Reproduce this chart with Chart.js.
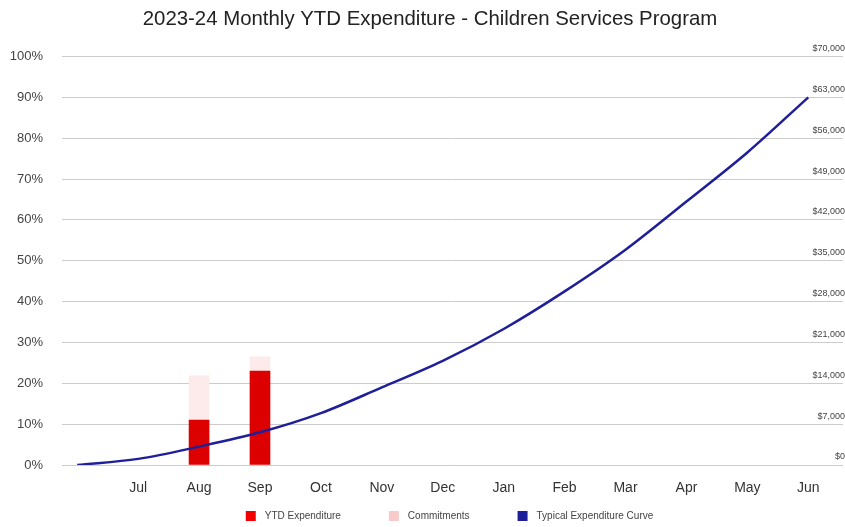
<!DOCTYPE html>
<html>
<head>
<meta charset="utf-8">
<script src="https://cdn.jsdelivr.net/npm/chart.js@4/dist/chart.umd.min.js"></script>
<style>
  html, body { margin: 0; padding: 0; background: #fff; }
  #wrap { width: 845px; height: 527px; }
</style>
</head>
<body>
<div id="wrap"><canvas id="ytdChart"></canvas></div>
<script>
// chart data
var months = ['', 'Jul', 'Aug', 'Sep', 'Oct', 'Nov', 'Dec', 'Jan', 'Feb', 'Mar', 'Apr', 'May', 'Jun'];
var ytdExpenditure = [null, null, 11, 23, null, null, null, null, null, null, null, null, null];
var commitments = [null, null, 10.8, 3.5, null, null, null, null, null, null, null, null, null];
var typicalCurve = [0, 1.5, 4.5, 8, 12.7, 19, 25.5, 33.3, 42.5, 52.7, 64.5, 76.5, 90];
var pctTicks = [0, 100, 10];        // min, max, step
var dollarTicks = [0, 70000, 7000]; // min, max, step
var legendOrder = ['YTD Expenditure', 'Commitments', 'Typical Expenditure Curve'];
var legendColors = ['#f00000', '#f8caca', '#1f1f9a'];

function toPoints(arr) {
    return arr.map(function (v, i) { return { x: i, y: v }; });
}

// legend swatch: square with empty space in front of it (gives the wide gaps between items)
function legendSwatch(color) {
    var c = document.createElement('canvas');
    c.width = 52;
    c.height = 10;
    var g = c.getContext('2d');
    g.fillStyle = color;
    g.fillRect(38, 0, 10, 10);
    return c;
}
var swatches = legendColors.map(legendSwatch);

// nudge title and legend a bit to the right like the original
var shiftBlocks = {
    id: 'shiftBlocks',
    afterLayout: function (chart) {
        chart.titleBlock.left = 17;
        chart.legend.left += 9;
        chart.legend.right += 9;
    }
};

Chart.defaults.font.family = "'Liberation Sans', Arial, sans-serif";
Chart.defaults.color = '#444';

var ctx = document.getElementById('ytdChart');
var myChart = new Chart(ctx, {
    data: {
        datasets: [{
            type: 'line',
            label: 'Typical Expenditure Curve',
            data: toPoints(typicalCurve),
            borderColor: '#1f1f9a',
            backgroundColor: '#1f1f9a',
            borderWidth: 2.5,
            pointRadius: 0,
            cubicInterpolationMode: 'monotone',
            stack: 'curve',
            order: 0
        }, {
            type: 'bar',
            label: 'YTD Expenditure',
            data: toPoints(ytdExpenditure),
            backgroundColor: '#dd0000',
            barThickness: 20,
            stack: 'spend',
            order: 1
        }, {
            type: 'bar',
            label: 'Commitments',
            data: toPoints(commitments),
            backgroundColor: '#fdeaea',
            barThickness: 20,
            stack: 'spend',
            order: 1
        }]
    },
    plugins: [shiftBlocks],
    options: {
        responsive: true,
        maintainAspectRatio: false,
        animation: false,
        layout: { padding: { left: 0, right: 2, top: 0, bottom: -4 } },
        scales: {
            x: {
                type: 'linear',
                offset: false,
                min: -0.25,
                max: 12.57,
                grid: { display: false, drawTicks: false, offset: false },
                border: { display: false },
                ticks: {
                    stepSize: 1,
                    includeBounds: false,
                    autoSkip: false,
                    maxRotation: 0,
                    padding: 15,
                    color: '#333',
                    font: { size: 14 },
                    callback: function (v) { return months[v] !== undefined ? months[v] : ''; }
                },
                afterFit: function (scale) { scale.height = 36; }
            },
            y: {
                position: 'left',
                stacked: true,
                min: pctTicks[0],
                max: pctTicks[1],
                grid: { color: '#cccccc', drawTicks: false },
                border: { display: false },
                ticks: {
                    stepSize: pctTicks[2],
                    padding: 19,
                    color: '#444',
                    font: { size: 13 },
                    callback: function (v) { return v + '%'; }
                },
                afterFit: function (scale) { scale.width = 62; }
            },
            y2: {
                position: 'right',
                min: dollarTicks[0],
                max: dollarTicks[1],
                grid: { display: false, drawTicks: false },
                border: { display: false },
                ticks: {
                    stepSize: dollarTicks[2],
                    mirror: true,
                    padding: 2,
                    labelOffset: -8,
                    color: '#444',
                    font: { size: 9 },
                    callback: function (v) { return '$' + v.toLocaleString('en-US'); }
                },
                afterFit: function (scale) { scale.width = 0; }
            }
        },
        plugins: {
            title: {
                display: true,
                text: '2023-24 Monthly YTD Expenditure - Children Services Program',
                color: '#222',
                font: { size: 20.4, weight: 'normal' },
                padding: { top: 7, bottom: 25 }
            },
            legend: {
                position: 'bottom',
                labels: {
                    usePointStyle: true,
                    pointStyleWidth: 52,
                    boxHeight: 10,
                    padding: 10,
                    color: '#444',
                    font: { size: 10 },
                    generateLabels: function (chart) {
                        var items = Chart.defaults.plugins.legend.labels.generateLabels(chart);
                        items.forEach(function (it) {
                            var k = legendOrder.indexOf(it.text);
                            it.pointStyle = swatches[k];
                            it.fillStyle = legendColors[k];
                            it.strokeStyle = legendColors[k];
                            it.lineWidth = 0;
                        });
                        items.sort(function (a, b) { return legendOrder.indexOf(a.text) - legendOrder.indexOf(b.text); });
                        return items;
                    }
                }
            },
            tooltip: { enabled: false }
        }
    }
});
</script>
</body>
</html>
